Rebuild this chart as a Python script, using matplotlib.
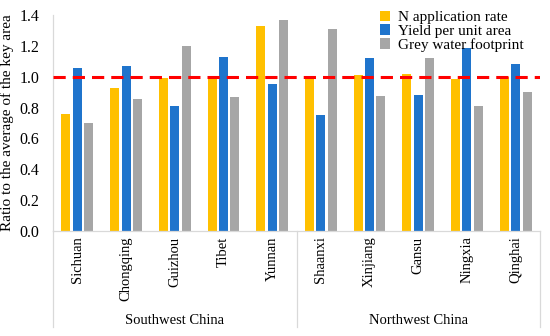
import matplotlib
matplotlib.use("Agg")
import matplotlib.pyplot as plt
import numpy as np

categories = ["Sichuan", "Chongqing", "Guizhou", "Tibet", "Yunnan",
              "Shaanxi", "Xinjiang", "Gansu", "Ningxia", "Qinghai"]
groups = ["Southwest China", "Northwest China"]
n_rate = [0.76, 0.93, 0.99, 1.00, 1.33, 1.00, 1.01, 1.015, 0.985, 1.00]
yield_area = [1.057, 1.07, 0.807, 1.13, 0.95, 0.75, 1.12, 0.88, 1.185, 1.083]
grey_wf = [0.70, 0.857, 1.20, 0.868, 1.37, 1.31, 0.874, 1.12, 0.807, 0.898]
series_names = ["N application rate", "Yield per unit area", "Grey water footprint"]
yticks = [0.0, 0.2, 0.4, 0.6, 0.8, 1.0, 1.2, 1.4]

plt.rcParams['font.family'] = ['Liberation Serif', 'DejaVu Serif']

fig = plt.figure(figsize=(5.5, 3.36), dpi=100)
ax = fig.add_axes([53/550, 1-231/336, (540-53)/550, (231-15)/336])

x = np.arange(len(categories))
w = 0.185
off = 0.235
colors = ["#FFC000", "#1F74CC", "#A6A6A6"]
for i, (vals, c, name) in enumerate(zip([n_rate, yield_area, grey_wf], colors, series_names)):
    ax.bar(x + (i-1)*off, vals, width=w, color=c, label=name, zorder=2)

ax.axhline(1.0, color="#FF0000", lw=2.2, linestyle=(0, (4, 2.3)), zorder=3)

ax.set_xlim(-0.5, len(categories)-0.5)
ax.set_ylim(0, 1.4)
ax.set_yticks(yticks)
ax.set_yticklabels([f"{v:.1f}" for v in yticks], fontsize=11.5)
ax.set_xticks(x)
ax.set_xticklabels(categories, rotation=90, fontsize=10.5)
ax.tick_params(axis='both', length=0, pad=4)
ax.tick_params(axis='y', pad=10)

for s in ["top", "right"]:
    ax.spines[s].set_visible(False)
for s in ["left", "bottom"]:
    ax.spines[s].set_color("#D9D9D9")
    ax.spines[s].set_linewidth(0.9)

ax.set_ylabel("Ratio to the average of the key area", fontsize=11, labelpad=4)

# group separators and labels
depth = -(327-231)/(231-15)
for xs in [0, 0.5, 1.0]:
    ax.plot([xs, xs], [0, depth], transform=ax.transAxes, color="#D9D9D9",
            lw=0.9, clip_on=False)
for gi, g in enumerate(groups):
    ax.text(0.25 + 0.5*gi, -(320-231)/(231-15), g, transform=ax.transAxes,
            ha='center', va='center', fontsize=10.5)

leg = ax.legend(loc='upper left', bbox_to_anchor=(369/550, 1.0), bbox_transform=fig.transFigure,
                frameon=False, fontsize=11, handlelength=0.7, handleheight=0.7,
                handletextpad=0.5, labelspacing=0.0, borderpad=0.2)

fig.savefig("out.png", dpi=100)
